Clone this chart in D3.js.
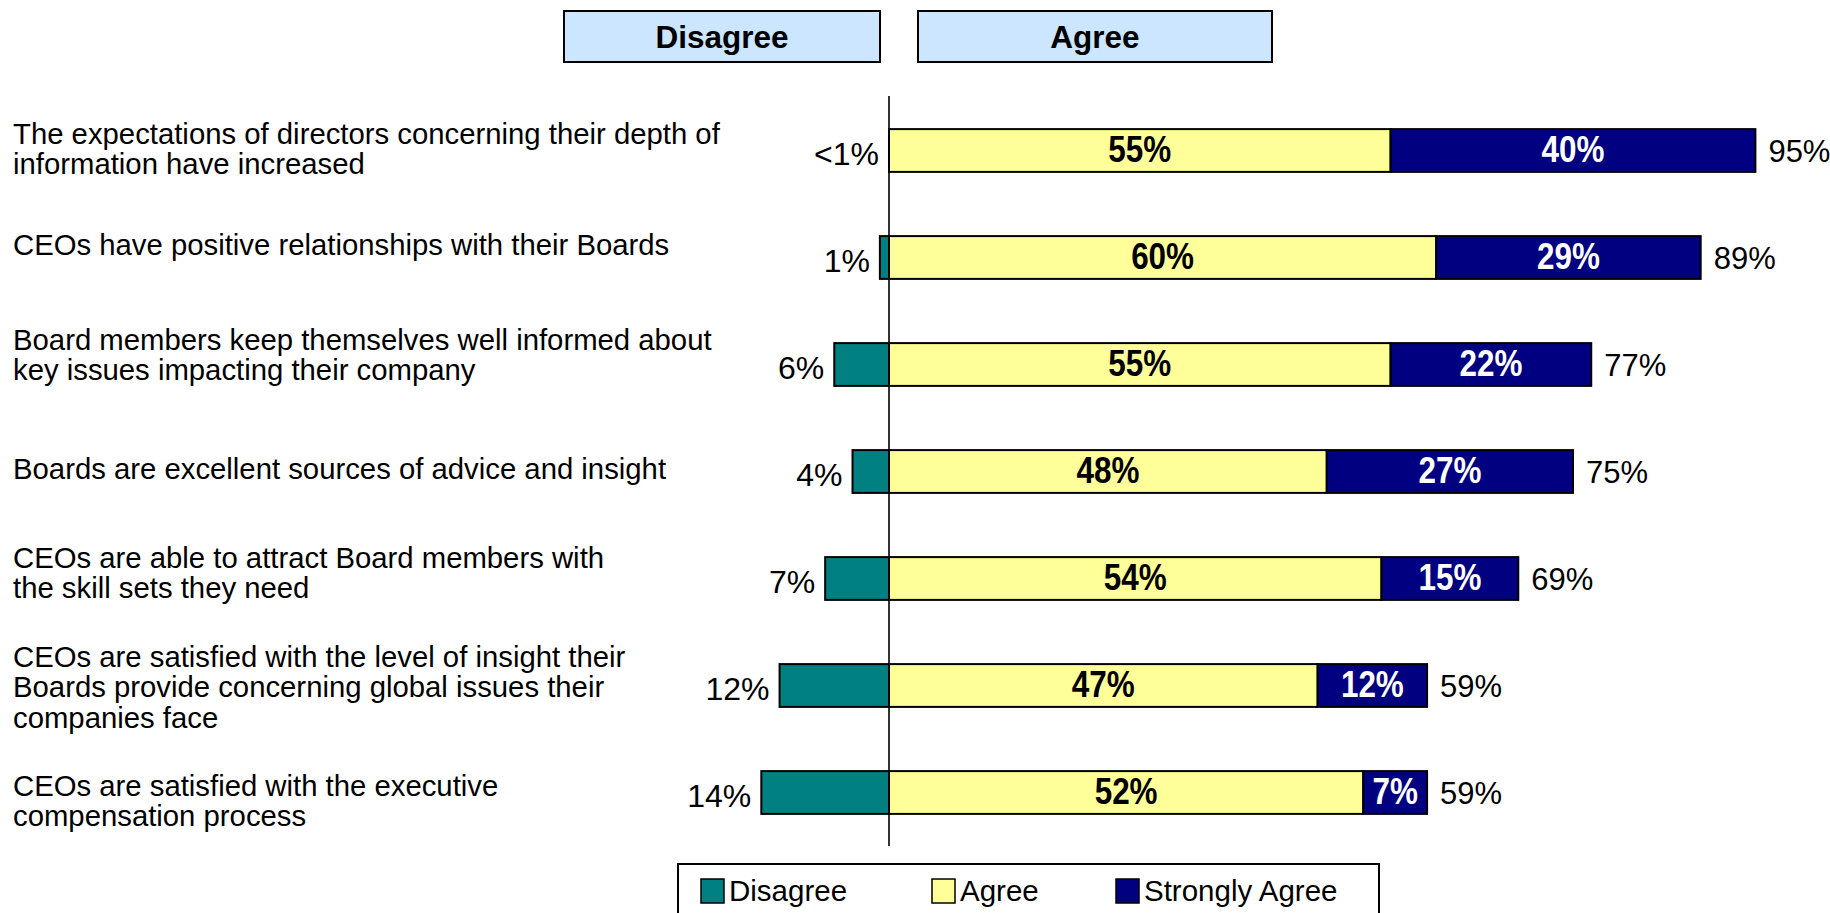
<!DOCTYPE html>
<html>
<head>
<meta charset="utf-8">
<script src="https://cdn.jsdelivr.net/npm/d3@7"></script>
<style>
  html, body { margin: 0; padding: 0; background: #fff; }
  svg { display: block; }
  text { font-family: "Liberation Sans", Arial, sans-serif; }
</style>
</head>
<body>
<svg id="chart" width="1830" height="913"></svg>
<script>
// Survey statements (one entry per bar; "\n" breaks the wrapped label lines)
const statements = [
  "The expectations of directors concerning their depth of\ninformation have increased",
  "CEOs have positive relationships with their Boards",
  "Board members keep themselves well informed about\nkey issues impacting their company",
  "Boards are excellent sources of advice and insight",
  "CEOs are able to attract Board members with\nthe skill sets they need",
  "CEOs are satisfied with the level of insight their\nBoards provide concerning global issues their\ncompanies face",
  "CEOs are satisfied with the executive\ncompensation process"
];

// Shares of respondents, in percent
const disagree      = [0, 1, 6, 4, 7, 12, 14];
const agree         = [55, 60, 55, 48, 54, 47, 52];
const stronglyAgree = [40, 29, 22, 27, 15, 12, 7];

// Printed label for the disagree share (the first one is below one percent)
const disagreeText  = ["<1%", "1%", "6%", "4%", "7%", "12%", "14%"];

const seriesNames   = ["Disagree", "Agree", "Strongly Agree"];
const headerNames   = ["Disagree", "Agree"];

const colors = { "Disagree": "#008080", "Agree": "#FFFF99", "Strongly Agree": "#000080" };

// Small vertical nudges (px) for the hand-placed statement text blocks
const statementNudge = [2, -9, -6, 1, -2, 5, 12];

const svg = d3.select("#chart");

// Horizontal scale: zero sits on the divider line, disagree extends to the left
const x = d3.scaleLinear().domain([0, 100]).range([889, 1801]);
const y = d3.scaleBand()
  .domain(d3.range(statements.length))
  .range([97, 846])
  .paddingInner(0.6)
  .paddingOuter(0.3);

const rows = statements.map((s, i) => ({
  i, label: s,
  dis: disagree[i], agr: agree[i], str: stronglyAgree[i],
  disText: disagreeText[i],
  total: agree[i] + stronglyAgree[i]
}));

// Header boxes
const headers = [
  { name: headerNames[0], x0: 564, x1: 880 },
  { name: headerNames[1], x0: 918, x1: 1272 }
];
const hg = svg.append("g").attr("class", "headers");
hg.selectAll("rect").data(headers).join("rect")
  .attr("x", d => d.x0).attr("y", 11)
  .attr("width", d => d.x1 - d.x0).attr("height", 51)
  .attr("fill", "#CCE6FF").attr("stroke", "#000").attr("stroke-width", 2);
hg.selectAll("text").data(headers).join("text")
  .attr("x", d => (d.x0 + d.x1) / 2).attr("y", 36.5)
  .attr("dy", "0.36em")
  .attr("text-anchor", "middle")
  .attr("font-size", 31.5).attr("font-weight", "bold").attr("fill", "#000")
  .text(d => d.name);

// Statement labels on the left
const lineGap = 30.5;
const lg = svg.append("g").attr("class", "statements");
rows.forEach(r => {
  const lines = r.label.split("\n");
  const cy = y(r.i) + y.bandwidth() / 2 - 4 + statementNudge[r.i];
  const t = lg.append("text")
    .attr("x", 13)
    .attr("font-size", 29.3).attr("fill", "#000");
  lines.forEach((ln, k) => {
    t.append("tspan")
      .attr("x", 13)
      .attr("y", cy + (k - (lines.length - 1) / 2) * lineGap)
      .attr("dy", "0.36em")
      .text(ln);
  });
});

// Bars
const bg = svg.append("g").attr("class", "bars");
const bar = bg.selectAll("g.row").data(rows).join("g").attr("class", "row");

bar.filter(d => d.dis > 0).append("rect")
  .attr("x", d => x(-d.dis)).attr("y", d => y(d.i))
  .attr("width", d => x(0) - x(-d.dis)).attr("height", y.bandwidth())
  .attr("fill", colors["Disagree"]).attr("stroke", "#000").attr("stroke-width", 2);

bar.append("rect")
  .attr("x", x(0)).attr("y", d => y(d.i))
  .attr("width", d => x(d.agr) - x(0)).attr("height", y.bandwidth())
  .attr("fill", colors["Agree"]).attr("stroke", "#000").attr("stroke-width", 2);

bar.append("rect")
  .attr("x", d => x(d.agr)).attr("y", d => y(d.i))
  .attr("width", d => x(d.agr + d.str) - x(d.agr)).attr("height", y.bandwidth())
  .attr("fill", colors["Strongly Agree"]).attr("stroke", "#000").attr("stroke-width", 2);

// Divider line at zero
svg.append("line")
  .attr("x1", x(0)).attr("x2", x(0))
  .attr("y1", 96).attr("y2", 846)
  .attr("stroke", "#000").attr("stroke-width", 1.6);

// Segment value labels (bold, narrow)
const mid = d => y(d.i) + y.bandwidth() / 2;
bar.append("text")
  .attr("transform", d => `translate(${(x(0) + x(d.agr)) / 2},${mid(d) - 2}) scale(0.85,1)`)
  .attr("dy", "0.36em").attr("text-anchor", "middle")
  .attr("font-size", 37).attr("font-weight", "bold").attr("fill", "#000")
  .text(d => d.agr + "%");

bar.append("text")
  .attr("transform", d => `translate(${(x(d.agr) + x(d.agr + d.str)) / 2},${mid(d) - 2}) scale(0.85,1)`)
  .attr("dy", "0.36em").attr("text-anchor", "middle")
  .attr("font-size", 37).attr("font-weight", "bold").attr("fill", "#fff")
  .text(d => d.str + "%");

// Disagree share, left of the bar
bar.append("text")
  .attr("x", d => x(-d.dis) - 10).attr("y", d => mid(d) + 3)
  .attr("dy", "0.36em").attr("text-anchor", "end")
  .attr("font-size", 32).attr("fill", "#000")
  .text(d => d.disText);

// Total agreement, right of the bar
bar.append("text")
  .attr("x", d => x(d.total) + 13).attr("y", d => mid(d))
  .attr("dy", "0.36em").attr("text-anchor", "start")
  .attr("font-size", 31).attr("fill", "#000")
  .text(d => d.total + "%");

// Legend
const leg = svg.append("g").attr("class", "legend");
leg.append("rect")
  .attr("x", 678).attr("y", 864).attr("width", 701).attr("height", 70)
  .attr("fill", "#fff").attr("stroke", "#000").attr("stroke-width", 2);
const legX = d3.scaleOrdinal().domain(seriesNames).range([701, 932, 1116]);
const item = leg.selectAll("g.item").data(seriesNames).join("g").attr("class", "item");
item.append("rect")
  .attr("x", d => legX(d)).attr("y", 879)
  .attr("width", 23).attr("height", 24)
  .attr("fill", d => colors[d]).attr("stroke", "#000").attr("stroke-width", 1.5);
item.append("text")
  .attr("x", d => legX(d) + 28).attr("y", 901)
  .attr("font-size", 29.5).attr("fill", "#000")
  .text(d => d);
</script>
</body>
</html>
